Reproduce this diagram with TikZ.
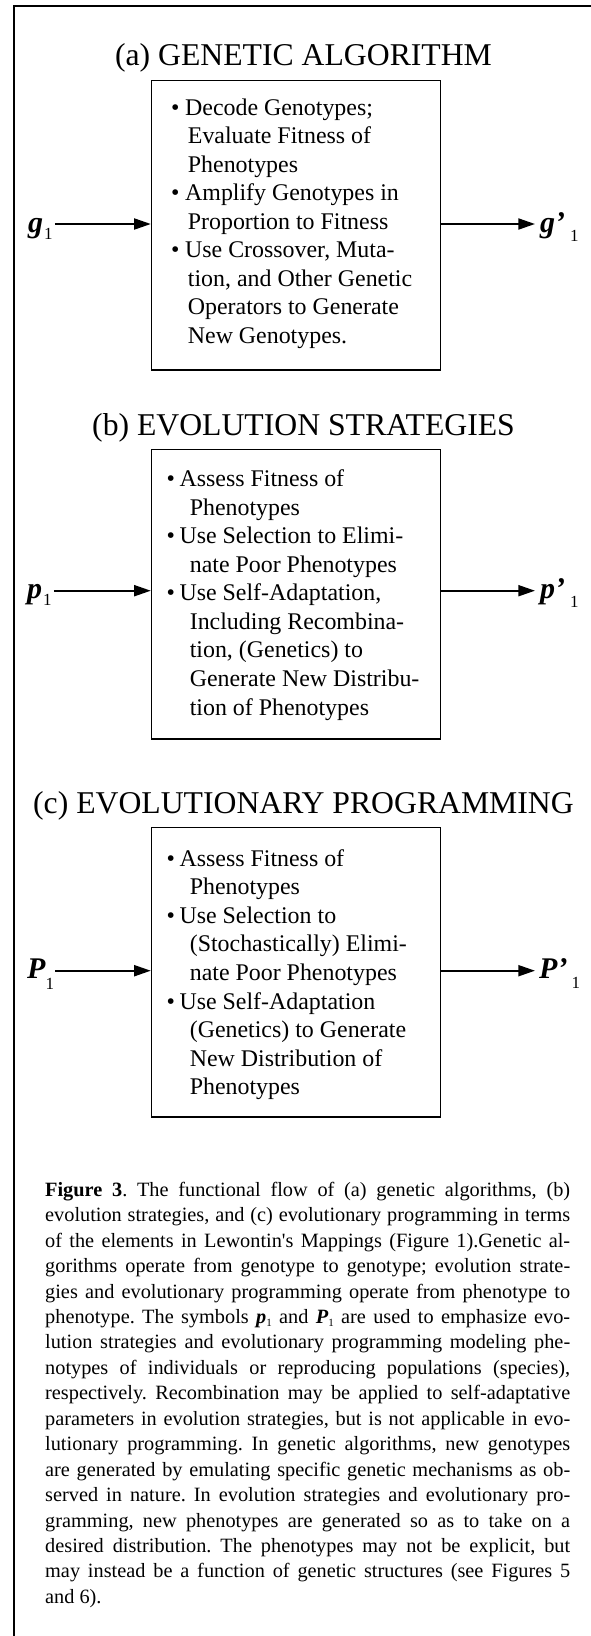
\documentclass[tikz,border=0pt]{standalone}
\usepackage{fontspec}
\setmainfont{Liberation Serif}
\newfontfamily\plainquote{Liberation Serif}[Ligatures=TeXOff]
\usetikzlibrary{arrows.meta}
\frenchspacing

% type sizes (1 unit = 1pt)
\newcommand{\titlefont}{\fontsize{31.7}{38}\selectfont}
\newcommand{\itemfont}{\fontsize{23.9}{28.54}\selectfont}
\newcommand{\capfont}{\fontsize{20.3}{25.44}\selectfont}
\newcommand{\symfont}{\fontsize{30}{30}\selectfont\bfseries\itshape}
\newcommand{\subfont}{\fontsize{17}{17}\selectfont}

% one bulleted line / one continuation line of a box text
\newcommand{\bitem}[2]{\hbox{\textbullet\hspace{#1}#2}}
\newcommand{\contline}[2]{\hbox{\hspace*{#1}#2}}
\newcommand{\capline}[1]{\hbox to 525pt{#1}}
\newcommand{\capsym}[1]{{\bfseries\itshape #1}\raisebox{-3pt}{\fontsize{11}{11}\selectfont 1}}

\tikzset{
  frame/.style={line width=2.4pt, line join=miter},
  stagebox/.style={draw, line width=1.4pt, minimum width=289pt, minimum height=289.3pt, inner sep=0pt},
  stagetitle/.style={anchor=base, inner sep=0pt, font=\titlefont},
  stagetext/.style={anchor=base west, inner sep=0pt, font=\itemfont},
  symlabel/.style={anchor=base west, inner sep=0pt},
  flow/.style={line width=2pt, -{Triangle[length=16.7pt, width=11pt]}},
}

\begin{document}
\begin{tikzpicture}[x=1pt, y=-1pt]
\useasboundingbox (0,0) rectangle (590,1636);

% page frame, open to the right and bottom
\draw[frame] (14,1650) -- (14,6) -- (600,6);

% ---------------- (a) genetic algorithm ----------------
\node[stagetitle] (titlea) at (303.5,65) {(a) GENETIC ALGORITHM};
\node[stagebox] (boxa) at (296,225.35) {};
\node[stagetext] (texta) at (170.8,115) {\vtop{\baselineskip=28.54pt
  \bitem{5.8pt}{Decode Genotypes;}
  \contline{16.9pt}{Evaluate Fitness of}
  \contline{16.9pt}{Phenotypes}
  \bitem{5.8pt}{Amplify Genotypes in}
  \contline{16.9pt}{Proportion to Fitness}
  \bitem{5.8pt}{Use Crossover, Muta-}
  \contline{16.9pt}{tion, and Other Genetic}
  \contline{16.9pt}{Operators to Generate}
  \contline{16.9pt}{New Genotypes.}}};
\node[symlabel] (ga) at (28,232) {{\symfont g}\hspace{1pt}\raisebox{-7pt}{\subfont 1}};
\node[symlabel] (gb) at (540,232) {{\symfont g’}\hspace{5pt}\raisebox{-9.5pt}{\subfont 1}};
\coordinate (ina) at ([yshift=1.35pt]boxa.west);
\coordinate (outa) at ([yshift=1.35pt]boxa.east);
\draw[flow] ([xshift=2pt]ga.east |- ina) -- (ina);
\draw[flow] (outa) -- ([xshift=-5pt]gb.west |- outa);

% ---------------- (b) evolution strategies ----------------
\node[stagetitle] (titleb) at (303.5,435) {(b) EVOLUTION STRATEGIES};
\node[stagebox] (boxb) at (296,594.3) {};
\node[stagetext] (textb) at (166.3,486.7) {\vtop{\baselineskip=28.54pt
  \bitem{4.7pt}{Assess Fitness of}
  \contline{23.3pt}{Phenotypes}
  \bitem{4.7pt}{Use Selection to Elimi-}
  \contline{23.3pt}{nate Poor Phenotypes}
  \bitem{4.7pt}{Use Self-Adaptation,}
  \contline{23.3pt}{Including Recombina-}
  \contline{23.3pt}{tion, (Genetics) to}
  \contline{23.3pt}{Generate New Distribu-}
  \contline{23.3pt}{tion of Phenotypes}}};
\node[symlabel] (pa) at (27,598.4) {{\symfont p}\hspace{1pt}\raisebox{-7pt}{\subfont 1}};
\node[symlabel] (pb) at (540,598.4) {{\symfont p’}\hspace{5pt}\raisebox{-9.5pt}{\subfont 1}};
\coordinate (inb) at ([yshift=3.6pt]boxb.west);
\coordinate (outb) at ([yshift=3.6pt]boxb.east);
\draw[flow] ([xshift=2pt]pa.east |- inb) -- (inb);
\draw[flow] (outb) -- ([xshift=-5pt]pb.west |- outb);

% ---------------- (c) evolutionary programming ----------------
\node[stagetitle] (titlec) at (303.5,813) {(c) EVOLUTIONARY PROGRAMMING};
\node[stagebox] (boxc) at (296,972.2) {};
\node[stagetext] (textc) at (166.3,866) {\vtop{\baselineskip=28.6pt
  \bitem{4.7pt}{Assess Fitness of}
  \contline{23.3pt}{Phenotypes}
  \bitem{4.7pt}{Use Selection to}
  \contline{23.3pt}{(Stochastically) Elimi-}
  \contline{23.3pt}{nate Poor Phenotypes}
  \bitem{4.7pt}{Use Self-Adaptation}
  \contline{23.3pt}{(Genetics) to Generate}
  \contline{23.3pt}{New Distribution of}
  \contline{23.3pt}{Phenotypes}}};
\node[symlabel] (Pa) at (27,978.3) {{\symfont P}\raisebox{-11.5pt}{\subfont 1}};
\node[symlabel] (Pb) at (539,978.3) {{\symfont P’}\hspace{4pt}\raisebox{-10pt}{\subfont 1}};
\coordinate (inc) at ([yshift=1.5pt]boxc.west);
\coordinate (outc) at ([yshift=1.5pt]boxc.east);
\draw[flow] ([xshift=1pt]Pa.east |- inc) -- (inc);
\draw[flow] (outc) -- ([xshift=-4pt]Pb.west |- outc);

% ---------------- caption ----------------
\node[anchor=base west, inner sep=0pt, font=\capfont] (caption) at (45,1196.3) {\vtop{\baselineskip=25.44pt
  \capline{\textbf{Figure 3}. The functional flow of (a) genetic algorithms, (b)}
  \capline{evolution strategies, and (c) evolutionary programming in terms}
  \capline{of the elements in Lewontin{\plainquote '}s Mappings (Figure 1).Genetic al-}
  \capline{gorithms operate from genotype to genotype; evolution strate-}
  \capline{gies and evolutionary programming operate from phenotype to}
  \capline{phenotype. The symbols \capsym{p} and \capsym{P} are used to emphasize evo-}
  \capline{lution strategies and evolutionary programming modeling phe-}
  \capline{notypes of individuals or reproducing populations (species),}
  \capline{respectively. Recombination may be applied to self-adaptative}
  \capline{parameters in evolution strategies, but is not applicable in evo-}
  \capline{lutionary programming. In genetic algorithms, new genotypes}
  \capline{are generated by emulating specific genetic mechanisms as ob-}
  \capline{served in nature. In evolution strategies and evolutionary pro-}
  \capline{gramming, new phenotypes are generated so as to take on a}
  \capline{desired distribution. The phenotypes may not be explicit, but}
  \capline{may instead be a function of genetic structures (see Figures 5}
  \hbox{and 6).}}};
\end{tikzpicture}
\end{document}
